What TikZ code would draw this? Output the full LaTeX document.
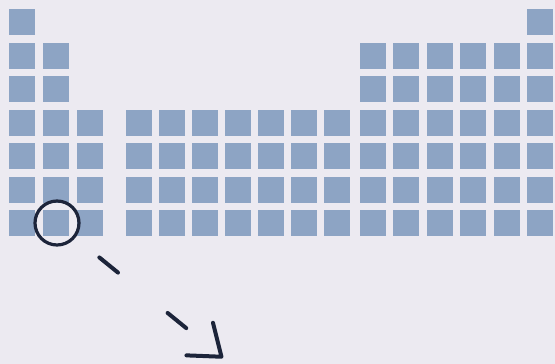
\documentclass[tikz,border=0pt]{standalone}
\usetikzlibrary{arrows.meta}

\definecolor{cellblue}{RGB}{141,164,196}
\definecolor{paper}{RGB}{236,234,241}
\definecolor{ink}{RGB}{28,36,58}

\begin{document}
\begin{tikzpicture}[x=1pt, y=-1pt,
  cell/.style={fill=cellblue},
  pen/.style={draw=ink, line width=4pt, line cap=round}]
  \fill[paper] (0,0) rectangle (555,364);
  \useasboundingbox (0,0) rectangle (555,364);
  % left block
  \foreach \row in {1,...,7} \fill[cell] (9, {9+33.5*(\row-1)}) rectangle ++(26,26);
  \foreach \row in {2,...,7} \fill[cell] (43, {9+33.5*(\row-1)}) rectangle ++(26,26);
  \foreach \row in {4,...,7} \fill[cell] (77, {9+33.5*(\row-1)}) rectangle ++(26,26);
  % middle block
  \foreach \col in {0,...,6}
    \foreach \row in {4,...,7}
      \fill[cell] ({126+33*\col}, {9+33.5*(\row-1)}) rectangle ++(26,26);
  % right block
  \foreach \col in {0,...,5}
    \foreach \row in {2,...,7}
      \fill[cell] ({360+33.4*\col}, {9+33.5*(\row-1)}) rectangle ++(26,26);
  \fill[cell] (527,9) rectangle ++(26,26);
  % marked cell and arrow
  \node[pen, circle, minimum size=44pt, inner sep=0pt, line width=3.2pt] (ring) at (57,223) {};
  \coordinate (tip) at (223,358);
  \draw[pen, dash pattern=on 24pt off 64pt, shorten <=31pt,
    -{Straight Barb[length=28pt, width=42pt, round]}] (ring) -- (tip);
\end{tikzpicture}
\end{document}
